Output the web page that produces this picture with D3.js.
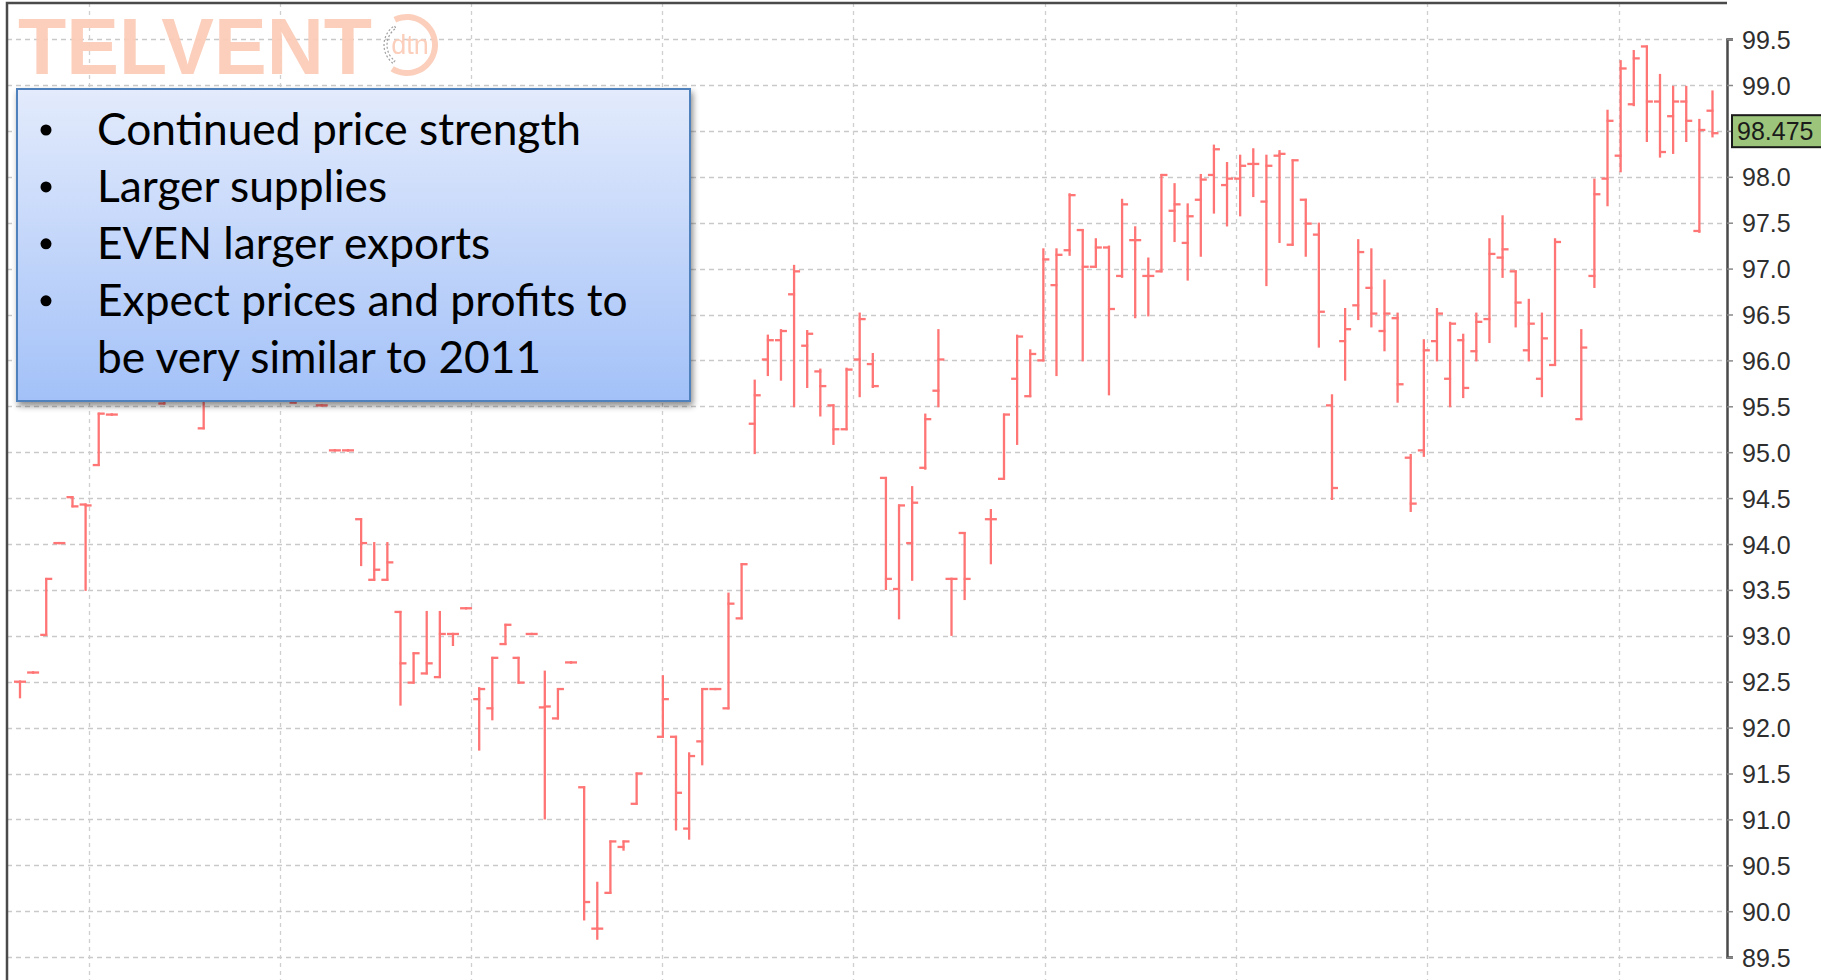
<!DOCTYPE html>
<html lang="en">
<head>
<meta charset="UTF-8" />
<title>Price chart with note</title>
<script src="https://d3js.org/d3.v7.min.js"></script>
<style>
  body { margin: 0; background: #fff; }
  svg { display: block; }
</style>
</head>
<body>
<div id="chart"></div>
<script>
// one slot per session, null = no bar visible (under the note box / no trade)
const open = [
  92.50, 92.60, 93.01, 94.01, 94.51, 94.43, 94.86, 95.41, null, null,
  null, 95.53, null, null, 95.26, null, null, null, null, null,
  null, 95.54, null, 95.51, 95.02, 95.02, 94.27, 93.61, 93.61, 93.26,
  92.49, 92.59, 92.55, 93.02, 93.30, 92.31, 92.21, 92.91, 92.76, 93.02,
  92.22, 92.10, 92.71, 91.35, 89.81, 90.20, 90.70, 91.17, null, 91.90,
  91.90, 90.90, 91.85, 92.42, 92.21, 93.19, 95.31, 96.01, 96.22, 96.72,
  96.16, 95.88, 95.51, 95.25, 96.01, 95.96, 94.72, 93.51, 94.01, 94.83,
  95.67, 93.62, 94.12, null, 94.27, 94.71, 95.80, 95.61, 96.00, 96.82,
  97.20, 97.42, 97.02, 97.23, 96.92, 97.31, 96.92, 96.97, 97.63, 97.28,
  97.75, 98.02, 97.91, 97.98, 98.14, 97.73, 98.23, 97.26, 97.75, 97.37,
  95.51, 96.21, 96.60, 96.79, 96.32, 96.46, 94.94, 95.02, 96.21, 95.80,
  96.22, 96.10, 96.45, 97.12, 96.97, 96.11, 95.80, 95.95, null, 95.36,
  96.92, 97.98, 98.23, 98.79, 99.42, 98.82, 98.66, 98.82, 97.41, 98.72
];
const high = [
  92.50, 92.60, 93.62, 94.01, 94.51, 94.43, 95.42, 95.41, null, null,
  null, 95.90, null, null, 95.90, null, null, null, null, null,
  null, 95.90, null, 95.51, 95.02, 95.02, 94.27, 94.01, 94.01, 93.26,
  92.81, 93.26, 93.26, 93.02, 93.30, 92.43, 92.76, 93.12, 92.76, 93.02,
  92.61, 92.42, 92.71, 91.35, 90.31, 90.76, 90.76, 91.50, null, 92.56,
  91.90, 91.72, 92.42, 92.42, 93.46, 93.78, 95.78, 96.27, 96.33, 97.03,
  96.32, 95.90, 95.51, 95.91, 96.51, 96.07, 94.72, 94.42, 94.62, 95.41,
  96.33, 93.62, 94.12, null, 94.37, 95.41, 96.27, 96.11, 97.21, 97.21,
  97.81, 97.42, 97.32, 97.24, 97.75, 97.45, 97.11, 98.02, 97.92, 97.70,
  98.02, 98.34, 98.15, 98.23, 98.30, 98.23, 98.28, 98.18, 97.75, 97.49,
  95.62, 96.56, 97.31, 97.21, 96.87, 96.51, 94.97, 96.22, 96.56, 96.41,
  96.28, 96.51, 97.32, 97.57, 96.97, 96.66, 96.51, 97.32, null, 96.33,
  97.97, 98.72, 99.26, 99.37, 99.42, 99.11, 98.98, 98.98, 98.62, 98.93
];
const low = [
  92.33, 92.60, 93.01, 94.01, 94.41, 93.50, 94.86, 95.41, null, null,
  null, 95.53, null, null, 95.26, null, null, null, null, null,
  null, 95.54, null, 95.51, 95.02, 95.02, 93.77, 93.61, 93.61, 92.25,
  92.49, 92.59, 92.55, 92.90, 93.30, 91.76, 92.09, 92.91, 92.49, 93.02,
  91.01, 92.10, 92.71, 89.91, 89.70, 90.20, 90.67, 91.17, null, 91.90,
  90.89, 90.79, 91.60, 92.42, 92.21, 93.19, 94.99, 95.84, 95.79, 95.50,
  95.71, 95.40, 95.09, 95.25, 95.61, 95.71, 93.51, 93.19, 93.61, 94.82,
  95.50, 93.01, 93.40, null, 93.79, 94.71, 95.09, 95.61, 96.00, 95.84,
  97.15, 96.00, 97.02, 95.63, 96.91, 96.47, 96.49, 96.97, 97.30, 96.88,
  97.14, 97.61, 97.47, 97.58, 97.79, 96.82, 97.29, 97.26, 97.14, 96.15,
  94.49, 95.79, 96.45, 96.37, 96.11, 95.55, 94.36, 94.96, 96.00, 95.50,
  95.60, 96.00, 96.20, 96.91, 96.37, 96.00, 95.61, 95.95, null, 95.36,
  96.80, 97.69, 98.06, 98.78, 98.39, 98.22, 98.26, 98.39, 97.40, 98.44
];
const close = [
  92.50, 92.60, 93.62, 94.01, 94.41, 94.42, 95.42, 95.41, null, null,
  null, 95.80, null, null, 95.70, null, null, null, null, null,
  null, 95.80, null, 95.51, 95.02, 95.02, 94.01, 93.72, 93.80, 92.70,
  92.81, 92.70, 93.02, 93.02, 93.30, 92.42, 92.76, 93.12, 92.49, 93.02,
  92.23, 92.42, 92.71, 90.10, 89.81, 90.76, 90.76, 91.50, null, 92.31,
  91.29, 91.69, 92.42, 92.42, 93.35, 93.78, 95.62, 96.22, 96.32, 96.97,
  96.29, 95.72, 95.25, 95.90, 96.45, 95.72, 93.62, 94.42, 94.45, 95.36,
  96.01, 93.62, 93.62, null, 94.27, 95.41, 96.26, 96.07, 97.10, 97.15,
  97.80, 97.02, 97.23, 96.56, 97.70, 97.31, 96.92, 98.02, 97.70, 97.57,
  97.97, 98.30, 97.98, 98.12, 98.14, 98.12, 98.25, 98.18, 97.49, 96.53,
  94.61, 96.34, 97.18, 96.51, 96.51, 95.74, 94.44, 96.11, 96.51, 96.40,
  95.70, 96.42, 97.16, 97.21, 96.63, 96.40, 96.24, 97.29, null, 96.14,
  97.81, 98.61, 99.18, 99.29, 98.82, 98.27, 98.82, 98.61, 98.51, 98.475
];
const lastPrice = 98.475;
const priceTicks = d3.range(89.5, 99.51, 0.5);
// vertical grid positions, in session slots
const gridSlots = [5.25, 19.8, 34.35, 48.9, 63.5, 78.1, 92.7, 107.25, 121.85];
const notes = [
  { bullet: true, text: 'Continued price strength' },
  { bullet: true, text: 'Larger supplies' },
  { bullet: true, text: 'EVEN larger exports' },
  { bullet: true, text: 'Expect prices and profits to' },
  { bullet: false, text: 'be very similar to 2011' }
];

const width = 1821;
const height = 980;
const plot = { left: 7, top: 3, right: 1727, bottom: 980 };
const barColor = '#ff7474';
const tick = 6;

const svg = d3
  .select('#chart')
  .append('svg')
  .attr('width', width)
  .attr('height', height);

const defs = svg.append('defs');
defs
  .append('clipPath')
  .attr('id', 'plotClip')
  .append('rect')
  .attr('x', plot.left)
  .attr('y', plot.top)
  .attr('width', plot.right - plot.left)
  .attr('height', plot.bottom - plot.top);

const grad = defs
  .append('linearGradient')
  .attr('id', 'boxFill')
  .attr('x1', 0)
  .attr('y1', 0)
  .attr('x2', 0)
  .attr('y2', 1);
grad.append('stop').attr('offset', '0%').attr('stop-color', '#e3ebfc');
grad.append('stop').attr('offset', '100%').attr('stop-color', '#a3c1f8');

const shadow = defs
  .append('filter')
  .attr('id', 'shadow')
  .attr('x', '-5%')
  .attr('y', '-5%')
  .attr('width', '115%')
  .attr('height', '120%');
shadow
  .append('feDropShadow')
  .attr('dx', 2)
  .attr('dy', 4)
  .attr('stdDeviation', 3)
  .attr('flood-color', '#000')
  .attr('flood-opacity', 0.45);

const x = d3.scaleLinear().domain([0, 129]).range([20, 20 + 129 * 13.12]);
const y = d3.scaleLinear().domain([89.5, 99.5]).range([957.1, 39.1]);

// grid
const grid = svg.append('g').attr('clip-path', 'url(#plotClip)');
grid
  .selectAll('line.h')
  .data(priceTicks)
  .enter()
  .append('line')
  .attr('class', 'h')
  .attr('x1', plot.left)
  .attr('x2', plot.right)
  .attr('y1', (d) => Math.round(y(d)) + 0.5)
  .attr('y2', (d) => Math.round(y(d)) + 0.5)
  .attr('stroke', '#c9c9c9')
  .attr('stroke-width', 1.3)
  .attr('stroke-dasharray', '5,4');
grid
  .selectAll('line.v')
  .data(gridSlots)
  .enter()
  .append('line')
  .attr('class', 'v')
  .attr('x1', (d) => Math.round(x(d)) + 0.5)
  .attr('x2', (d) => Math.round(x(d)) + 0.5)
  .attr('y1', plot.top)
  .attr('y2', plot.bottom)
  .attr('stroke', '#cfcfcf')
  .attr('stroke-width', 1.3)
  .attr('stroke-dasharray', '4,4');

// watermark
const mark = svg.append('g').attr('opacity', 0.95);
mark
  .append('text')
  .attr('x', 18)
  .attr('y', 74)
  .attr('font-family', 'Liberation Sans, Arial, sans-serif')
  .attr('font-weight', 'bold')
  .attr('font-size', 80)
  .attr('textLength', 354)
  .attr('lengthAdjust', 'spacingAndGlyphs')
  .attr('fill', '#fbcdb9')
  .text('TELVENT');
const logo = mark.append('g').attr('transform', 'translate(407,45)');
logo
  .append('path')
  .attr(
    'd',
    d3.arc().innerRadius(25).outerRadius(31).startAngle(-0.45).endAngle(3.7)()
  )
  .attr('fill', '#fbcdb9');
logo
  .append('path')
  .attr(
    'd',
    d3.arc().innerRadius(20).outerRadius(23).startAngle(3.8).endAngle(5.7)()
  )
  .attr('fill', 'none')
  .attr('stroke', '#9a9a9a')
  .attr('stroke-width', 1.2)
  .attr('stroke-dasharray', '2,2');
logo
  .append('text')
  .attr('x', 3)
  .attr('y', 9)
  .attr('text-anchor', 'middle')
  .attr('font-family', 'Liberation Sans, Arial, sans-serif')
  .attr('font-size', 27)
  .attr('fill', '#fbcdb9')
  .text('dtn');

// OHLC bars
const bars = open
  .map((o, i) => ({ i, o, h: high[i], l: low[i], c: close[i] }))
  .filter((d) => d.o !== null);

const barG = svg
  .append('g')
  .attr('clip-path', 'url(#plotClip)')
  .attr('stroke', barColor)
  .attr('stroke-width', 2.3);

const bar = barG.selectAll('g').data(bars).enter().append('g');
bar
  .append('line')
  .attr('x1', (d) => x(d.i))
  .attr('x2', (d) => x(d.i))
  .attr('y1', (d) => y(d.h) - 1)
  .attr('y2', (d) => y(d.l) + 1);
bar
  .append('line')
  .attr('x1', (d) => x(d.i) - tick)
  .attr('x2', (d) => x(d.i) + 1)
  .attr('y1', (d) => y(d.o))
  .attr('y2', (d) => y(d.o));
bar
  .append('line')
  .attr('x1', (d) => x(d.i) - 1)
  .attr('x2', (d) => x(d.i) + tick)
  .attr('y1', (d) => y(d.c))
  .attr('y2', (d) => y(d.c));

// frame
svg
  .append('path')
  .attr('d', `M${plot.left},${plot.bottom}V${plot.top}H${plot.right}`)
  .attr('fill', 'none')
  .attr('stroke', '#4a4a4a')
  .attr('stroke-width', 2.5);

// right axis; the 98.5 label sits under the last-price box, so it is left blank
const axis = svg
  .append('g')
  .attr('transform', `translate(${plot.right},0)`)
  .call(
    d3
      .axisRight(y)
      .tickValues(priceTicks)
      .tickSize(6)
      .tickPadding(9)
      .tickFormat((d) =>
        Math.abs(d - lastPrice) < 0.3 ? '' : d3.format('.1f')(d)
      )
  );
axis.select('.domain').attr('stroke', '#4a4a4a').attr('stroke-width', 2.5);
axis.selectAll('.tick line').attr('stroke', '#888').attr('stroke-width', 1.5);
axis
  .selectAll('.tick text')
  .attr('font-family', 'Liberation Sans, Arial, sans-serif')
  .attr('font-size', 25)
  .attr('fill', '#2e2e2e')
  .attr('dy', '0.36em');

// last price marker
const lp = svg
  .append('g')
  .attr('transform', `translate(${plot.right + 5},${y(lastPrice) - 2})`);
lp.append('rect')
  .attr('x', 0)
  .attr('y', -16)
  .attr('width', 110)
  .attr('height', 32)
  .attr('fill', '#9cc57b')
  .attr('stroke', '#1a1a1a')
  .attr('stroke-width', 2);
lp.append('text')
  .attr('x', 5)
  .attr('y', 0)
  .attr('dy', '0.36em')
  .attr('font-family', 'Liberation Sans, Arial, sans-serif')
  .attr('font-size', 25)
  .attr('fill', '#1a1a1a')
  .text(d3.format('.3f')(lastPrice));

// note box
const box = svg.append('g');
box
  .append('rect')
  .attr('x', 17)
  .attr('y', 89)
  .attr('width', 673)
  .attr('height', 312)
  .attr('fill', 'url(#boxFill)')
  .attr('stroke', '#4f81bd')
  .attr('stroke-width', 2)
  .attr('filter', 'url(#shadow)');

const lineY = d3.scaleLinear().domain([0, 4]).range([145, 372.7]);
const noteRow = box
  .selectAll('g.note')
  .data(notes)
  .enter()
  .append('g')
  .attr('class', 'note')
  .attr('transform', (d, i) => `translate(0,${lineY(i)})`);
noteRow
  .filter((d) => d.bullet)
  .append('circle')
  .attr('cx', 46)
  .attr('cy', -15)
  .attr('r', 5.5)
  .attr('fill', '#000');
noteRow
  .append('text')
  .attr('x', 97)
  .attr('y', 0)
  .attr('font-family', 'Lato, sans-serif')
  .attr('font-size', 44.3)
  .attr('fill', '#000')
  .text((d) => d.text);
</script>
</body>
</html>
